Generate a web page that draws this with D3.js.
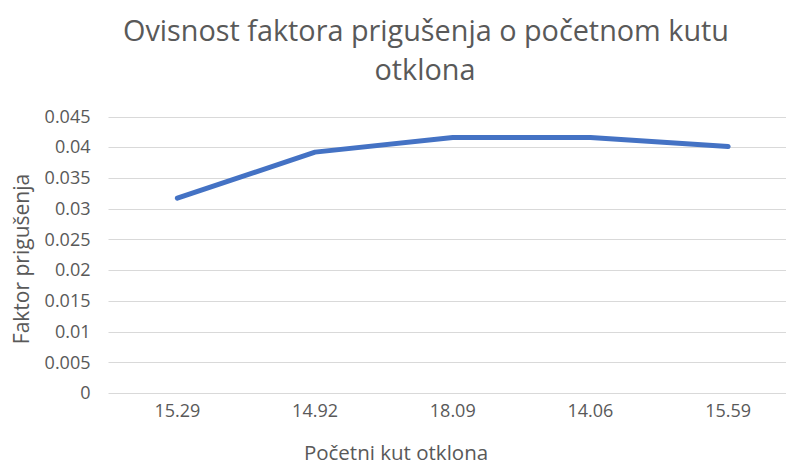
<!DOCTYPE html>
<html lang="hr">
<head>
  <meta charset="utf-8" />
  <title>Ovisnost faktora prigušenja</title>
  <script src="https://d3js.org/d3.v7.min.js" charset="utf-8"></script>
  <style>
body {
  margin: 0;
  background-color: white;
  font-family: 'Open Sans', sans-serif;
}
svg {
  display: block;
}
.grid line {
  stroke: #d9d9d9;
  stroke-width: 1;
}
.tick text {
  fill: #595959;
}
.label {
  fill: #595959;
}
</style>
</head>
<body>
  <svg width="786" height="465"></svg>

  <script>
    // kutovi (kategorije na x osi)
    var angles = ['15.29', '14.92', '18.09', '14.06', '15.59'];
    // faktor prigušenja
    var damping = [0.0317, 0.0392, 0.0416, 0.0416, 0.0401];
    var yTicks = [0, 0.005, 0.01, 0.015, 0.02, 0.025, 0.03, 0.035, 0.04, 0.045];

    var data = angles.map((a, i) => ({ angle: a, value: damping[i] }));

    var svg = d3.select('svg');
    var plotLeft = 108.5, plotRight = 797, plotTop = 116.5, plotBottom = 393;

    var xScale = d3.scaleBand()
      .range([plotLeft, plotRight])
      .domain(angles)
      .padding(0);

    var yScale = d3.scaleLinear()
      .range([plotBottom, plotTop])
      .domain([0, 0.045]);

    // gridlines
    svg.append('g')
      .attr('class', 'grid')
      .selectAll('line')
      .data(yTicks)
      .enter()
      .append('line')
      .attr('x1', plotLeft)
      .attr('x2', plotRight)
      .attr('y1', d => Math.round(yScale(d)) + 0.5)
      .attr('y2', d => Math.round(yScale(d)) + 0.5);

    // y axis labels
    var yAxis = svg.append('g')
      .attr('transform', `translate(${plotLeft - 18}, 0)`)
      .call(d3.axisLeft(yScale).tickValues(yTicks).tickSize(0).tickPadding(0)
        .tickFormat(d => String(+d.toFixed(3))));
    yAxis.select('.domain').remove();
    yAxis.selectAll('text').style('font-size', '18px').style('font-family', "'Open Sans', sans-serif");

    // x axis labels
    var xAxis = svg.append('g')
      .attr('transform', `translate(0, ${plotBottom + 11})`)
      .call(d3.axisBottom(xScale).tickSize(0).tickPadding(0));
    xAxis.select('.domain').remove();
    xAxis.selectAll('text').style('font-size', '18px').style('font-family', "'Open Sans', sans-serif");

    // linija
    var line = d3.line()
      .x(d => xScale(d.angle) + xScale.bandwidth() / 2)
      .y(d => yScale(d.value));

    svg.append('path')
      .datum(data)
      .attr('fill', 'none')
      .attr('stroke', '#4472c4')
      .attr('stroke-width', 5)
      .attr('stroke-linecap', 'round')
      .attr('stroke-linejoin', 'round')
      .attr('d', line);

    // naslov
    var title = svg.append('text')
      .attr('class', 'label')
      .attr('text-anchor', 'middle')
      .style('font-size', '28.8px');
    title.append('tspan')
      .attr('x', 426)
      .attr('y', 41)
      .text('Ovisnost faktora prigušenja o početnom kutu');
    title.append('tspan')
      .attr('x', 425)
      .attr('y', 80)
      .text('otklona');

    svg.append('text')
      .attr('class', 'label')
      .attr('x', 396)
      .attr('y', 460)
      .attr('text-anchor', 'middle')
      .style('font-size', '20.5px')
      .text('Početni kut otklona');

    svg.append('text')
      .attr('class', 'label')
      .attr('transform', 'translate(29, 259) rotate(-90)')
      .attr('text-anchor', 'middle')
      .style('font-size', '21px')
      .text('Faktor prigušenja');
  </script>
</body>
</html>
